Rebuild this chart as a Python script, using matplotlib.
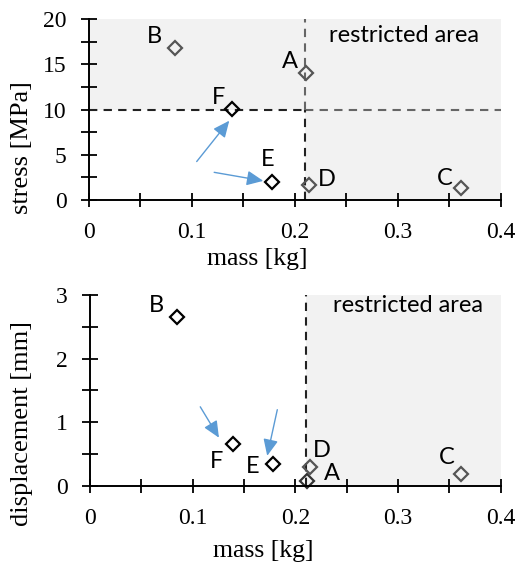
import matplotlib.pyplot as plt
from matplotlib.ticker import MultipleLocator

# Data
labels = ['A', 'B', 'C', 'D', 'E', 'F']
mass = [0.211, 0.084, 0.361, 0.214, 0.178, 0.139]
stress = [14.0, 16.8, 1.3, 1.7, 2.0, 10.05]
mass_d = [0.2115, 0.085, 0.361, 0.214, 0.178, 0.1395]
displacement = [0.07, 2.65, 0.18, 0.29, 0.35, 0.66]
stress_limit = 10
mass_limit = 0.21

# marker colour: black = feasible, grey = restricted
top_colors = ['#555555', '#555555', '#555555', '#555555', 'black', 'black']
bot_colors = ['#333333', 'black', '#555555', '#555555', 'black', 'black']

# label offsets in pixels (dx, dy)
top_off = {'A': (-16, 12), 'B': (-21, 12), 'C': (-16, 10), 'D': (18, 5), 'E': (-5, 22), 'F': (-13, 12)}
bot_off = {'A': (25, 8), 'B': (-21, 12), 'C': (-14, 17), 'D': (12, 17), 'E': (-20, -3), 'F': (-17, -18)}

serif = 'Liberation Serif'
sans = 'Lato'
lab_size = 17
shade = '#f2f2f2'
arrow_col = '#5b9bd5'
arrow_props = dict(arrowstyle='-|>,head_length=1.0,head_width=0.45', color=arrow_col, lw=1.0)

fig = plt.figure(figsize=(5.2, 5.63), dpi=100)
ax1 = fig.add_axes([0.171, 0.645, 0.792, 0.321])
ax2 = fig.add_axes([0.173, 0.137, 0.790, 0.339])


def style(ax, ymax, ymajor, yminor, ylabel, xl_pos, yl_pos):
    ax.set_xlim(0, 0.4)
    ax.set_ylim(0, ymax)
    for s in ['top', 'right']:
        ax.spines[s].set_visible(False)
    for s in ['left', 'bottom']:
        ax.spines[s].set_linewidth(1.4)
        ax.spines[s].set_zorder(4)
    ax.xaxis.set_major_locator(MultipleLocator(0.1))
    ax.xaxis.set_minor_locator(MultipleLocator(0.05))
    ax.yaxis.set_major_locator(MultipleLocator(ymajor))
    ax.yaxis.set_minor_locator(MultipleLocator(yminor))
    ax.tick_params(axis='x', which='both', direction='inout', length=9.5, width=1.3, pad=11)
    ax.tick_params(axis='y', which='both', direction='inout', length=12, width=1.3, pad=10)
    ax.xaxis.set_major_formatter(plt.FuncFormatter(lambda v, p: '0' if v == 0 else f'{v:g}'))
    for t in ax.get_xticklabels() + ax.get_yticklabels():
        t.set_fontfamily(serif)
        t.set_fontsize(17)
    ax.set_xlabel('mass [kg]', fontfamily=serif, fontsize=18.5)
    ax.set_ylabel(ylabel, fontfamily=serif, fontsize=19)
    ax.xaxis.set_label_coords(*xl_pos)
    ax.yaxis.set_label_coords(*yl_pos)


# ---- top: stress vs mass ----
ax1.axhspan(stress_limit, 20, color=shade, lw=0, zorder=0)
ax1.fill_between([mass_limit, 0.4], 0, stress_limit, color=shade, lw=0, zorder=0)
ax1.plot([0, mass_limit], [stress_limit, stress_limit], '--', color='#222222', lw=1.5, dashes=(4, 3), zorder=2)
ax1.plot([mass_limit, 0.4], [stress_limit, stress_limit], '--', color='#666666', lw=1.5, dashes=(4, 3), zorder=2)
ax1.plot([mass_limit, mass_limit], [0, stress_limit], '--', color='#222222', lw=1.5, dashes=(4, 3), zorder=2)
ax1.plot([mass_limit, mass_limit], [stress_limit, 20], '--', color='#666666', lw=1.5, dashes=(4, 3), zorder=2)
for lab, x, y, c in zip(labels, mass, stress, top_colors):
    ax1.plot(x, y, 'D', mfc='none', mec=c, ms=7, mew=1.6, zorder=3)
    ax1.annotate(lab, (x, y), xytext=top_off[lab], textcoords='offset pixels',
                 ha='center', va='center', fontfamily=sans, fontsize=lab_size)
ax1.text(0.306, 18.2, 'restricted area', ha='center', va='center', fontfamily=sans, fontsize=lab_size)
ax1.annotate('', xy=(0.138, 9.0), xytext=(0.103, 4.0), arrowprops=arrow_props)
ax1.annotate('', xy=(0.172, 2.05), xytext=(0.119, 3.1), arrowprops=arrow_props)
style(ax1, 20, 5, 2.5, 'stress [MPa]', (0.409, -0.265), (-0.136, 0.29))

# ---- bottom: displacement vs mass ----
ax2.fill_between([mass_limit, 0.4], 0, 3, color=shade, lw=0, zorder=0)
ax2.plot([mass_limit, mass_limit], [0, 3], '--', color='#222222', lw=1.5, dashes=(4, 3), zorder=2)
for lab, x, y, c in zip(labels, mass_d, displacement, bot_colors):
    ax2.plot(x, y, 'D', mfc='none', mec=c, ms=7, mew=1.6, zorder=3, clip_on=False)
    ax2.annotate(lab, (x, y), xytext=bot_off[lab], textcoords='offset pixels',
                 ha='center', va='center', fontfamily=sans, fontsize=lab_size)
ax2.text(0.31, 2.83, 'restricted area', ha='center', va='center', fontfamily=sans, fontsize=lab_size)
ax2.annotate('', xy=(0.127, 0.72), xytext=(0.106, 1.28), arrowprops=arrow_props)
ax2.annotate('', xy=(0.172, 0.43), xytext=(0.183, 1.24), arrowprops=arrow_props)
style(ax2, 3, 1, 0.5, 'displacement [mm]', (0.422, -0.285), (-0.139, 0.326))

plt.savefig('out.png', dpi=100)
plt.close()
